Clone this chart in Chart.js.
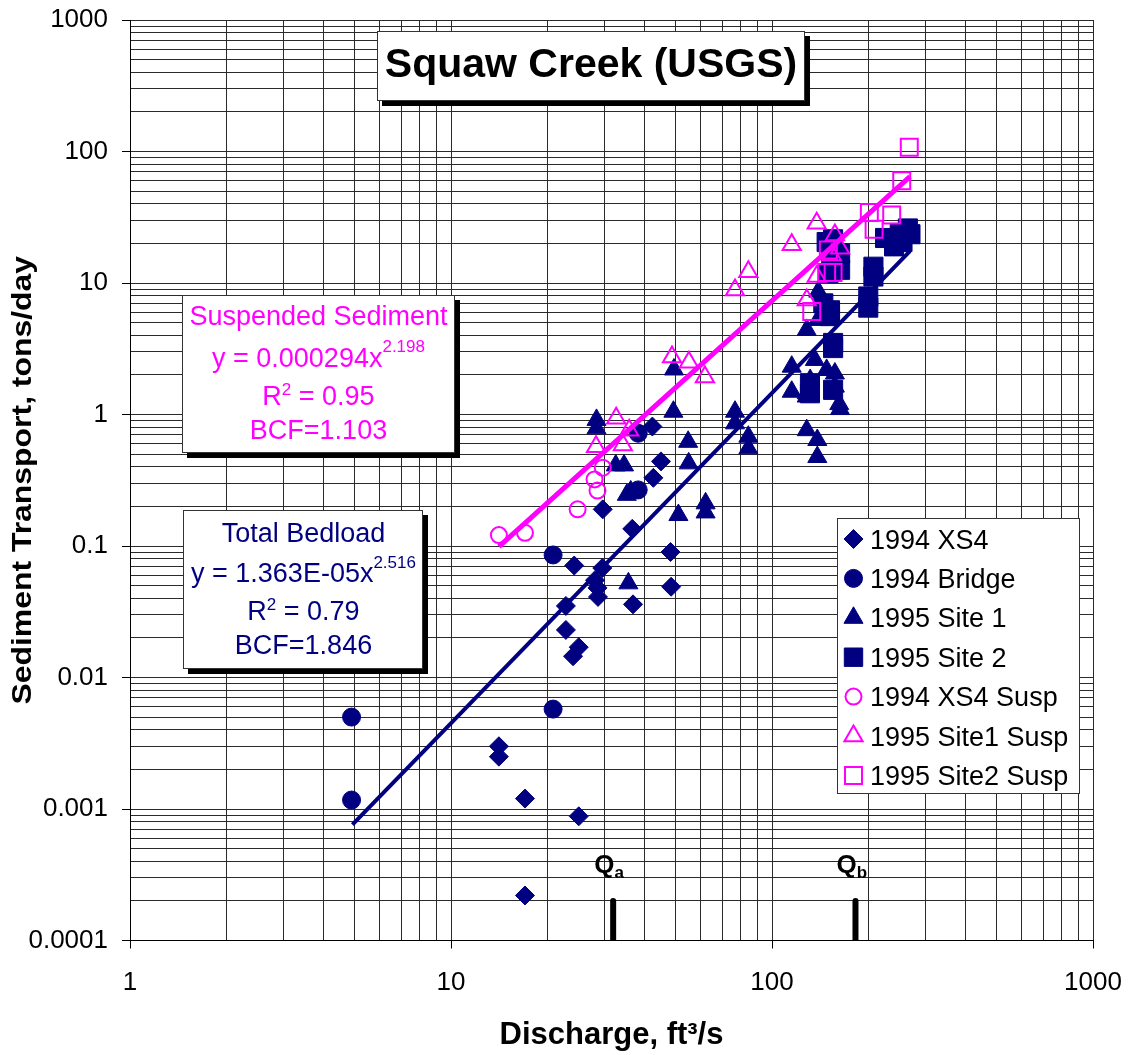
<!DOCTYPE html>
<html><head><meta charset="utf-8">
<script src="https://cdn.jsdelivr.net/npm/chart.js@4/dist/chart.umd.min.js"></script>
<style>html,body{margin:0;padding:0;background:#fff}canvas{display:block}</style>
</head><body>
<canvas id="c" width="1129" height="1055"></canvas>
<script>
// ---- data ----
const xs4X = [29.7, 36.7, 42.4, 45.1, 42.7, 48.3, 48.5, 36.9, 29.6, 24.2, 28.1, 28.6, 28.7, 22.8, 22.8, 25.0, 24.0, 14.1, 14.1, 17.0, 25.0, 17.0];
const xs4Y = [0.19, 0.135, 0.81, 0.44, 0.33, 0.09, 0.049, 0.036, 0.068, 0.071, 0.055, 0.048, 0.041, 0.035, 0.023, 0.017, 0.0145, 0.0030, 0.0025, 0.0012, 0.00088, 0.00022];

const bridgeX = [4.9, 4.9, 20.8, 20.8, 38.3, 38.3];
const bridgeY = [0.005, 0.00117, 0.0855, 0.00575, 0.72, 0.267];

const site1X = [28.4, 28.4, 32.6, 34.6, 35.3, 36.3, 49.5, 49.3, 54.8, 55.0, 51.1, 62.1, 62.1, 35.7, 76.7, 76.7, 84.4, 84.4, 139.4, 128.3, 139.0, 115.2, 115.2, 128.3, 136.0, 131.5, 157.0, 157.0, 162.9, 162.0, 128.3, 138.4, 138.4, 128.3, 148.0];
const site1Y = [0.91, 0.785, 0.41, 0.41, 0.245, 0.26, 2.2, 1.05, 0.62, 0.425, 0.172, 0.211, 0.18, 0.052, 1.05, 0.857, 0.678, 0.553, 8.6, 4.4, 5.24, 2.31, 1.49, 1.45, 2.6, 1.83, 2.05, 1.63, 1.1, 1.2, 0.76, 0.64, 0.475, 1.37, 2.18];

const site2X = [225, 240, 250, 265, 255, 270, 207, 207, 199.5, 199.5, 155, 148, 163, 163, 150, 144.5, 151.6, 151.6, 155, 155, 131.3, 155, 131.3, 153];
const site2Y = [22, 19, 24, 26, 20.5, 23.5, 13.3, 11.2, 7.9, 6.5, 21.5, 20.5, 16.8, 12.6, 11.9, 7.0, 6.2, 5.6, 3.5, 3.2, 1.73, 1.54, 1.45, 16.3];

const xs4SuspX = [14.1, 17.0, 24.8, 29.7, 28.0, 28.6];
const xs4SuspY = [0.121, 0.126, 0.19, 0.394, 0.321, 0.264];

const site1SuspX = [32.7, 35.9, 34.3, 28.3, 61.8, 48.8, 55.1, 76.7, 84.4, 115.2, 137.8, 157, 163, 153.5, 137.8, 128.3];
const site1SuspY = [0.935, 0.76, 0.586, 0.569, 1.93, 2.74, 2.5, 8.85, 12.2, 19.5, 28.5, 23.2, 18.4, 16.3, 11.2, 7.43];

const site2SuspX = [267.7, 253.6, 201, 236, 208, 149.8, 148, 155, 133];
const site2SuspY = [107.7, 60, 34.3, 32.9, 25.6, 17.8, 12.0, 12.0, 6.06];

// trend line end points as drawn
const bedFitX = [4.93, 269];
const bedFitY = [0.00076, 17.5];
const suspFitX = [14.1, 269];
const suspFitY = [0.099, 64.4];

// Qa / Qb marks
const qX = [32, 182];
const qY = [0.0001, 0.0002];
const qNames = ['a', 'b'];

const xTickLabels = ['1', '10', '100', '1000'];
const yTickLabels = ['0.0001', '0.001', '0.01', '0.1', '1', '10', '100', '1000'];
const legendLabels = ['1994 XS4', '1994 Bridge', '1995 Site 1', '1995 Site 2', '1994 XS4 Susp', '1995 Site1 Susp', '1995 Site2 Susp'];

const NAVY = '#000080', MAG = '#FF00FF';
const FONT = "'Liberation Sans', Arial, Helvetica, sans-serif";
Chart.defaults.font.family = FONT;
Chart.defaults.color = '#000';

const pts = (xa, ya) => xa.map((x, i) => ({x: x, y: ya[i]}));

function gridTicks(min, max) {
  const out = [];
  const e0 = Math.round(Math.log10(min)), e1 = Math.round(Math.log10(max));
  for (let e = e0; e <= e1; e++) {
    for (let m = 1; m <= 9; m++) {
      const v = Number((m * Math.pow(10, e)).toPrecision(12));
      if (v >= min && v <= max) out.push({value: v, major: m === 1});
    }
  }
  return out;
}
function isDecade(v) {
  const e = Math.round(Math.log10(v));
  return Math.abs(v - Math.pow(10, e)) / v < 1e-9;
}
function labelFrom(arr, min) {
  const e0 = Math.round(Math.log10(min));
  return function (value) {
    if (!isDecade(value)) return '';
    return arr[Math.round(Math.log10(value)) - e0] || '';
  };
}

const ptStyles = [
  {pointStyle: 'rectRot', r: 9.5, fill: NAVY, stroke: NAVY, bw: 1},
  {pointStyle: 'circle', r: 9, fill: NAVY, stroke: NAVY, bw: 1},
  {pointStyle: 'triangle', r: 11, fill: NAVY, stroke: NAVY, bw: 1},
  {pointStyle: 'rect', r: 13.5, fill: NAVY, stroke: NAVY, bw: 1},
  {pointStyle: 'circle', r: 8, fill: 'rgba(0,0,0,0)', stroke: MAG, bw: 2},
  {pointStyle: 'triangle', r: 10.5, fill: 'rgba(0,0,0,0)', stroke: MAG, bw: 2},
  {pointStyle: 'rect', r: 12, fill: 'rgba(0,0,0,0)', stroke: MAG, bw: 2}
];
const legendSizes = [9.5, 9, 11, 13, 8, 10.5, 12];
const seriesData = [pts(xs4X, xs4Y), pts(bridgeX, bridgeY), pts(site1X, site1Y), pts(site2X, site2Y), pts(xs4SuspX, xs4SuspY), pts(site1SuspX, site1SuspY), pts(site2SuspX, site2SuspY)];

const markerSets = seriesData.map((d, i) => ({
  label: legendLabels[i], data: d, showLine: false,
  pointStyle: ptStyles[i].pointStyle, pointRadius: ptStyles[i].r,
  pointBackgroundColor: ptStyles[i].fill, pointBorderColor: ptStyles[i].stroke,
  pointBorderWidth: ptStyles[i].bw
}));

const lineSet = (label, data, color, w, cap) => ({
  label: label, data: data, showLine: true, borderColor: color, borderWidth: w,
  pointRadius: 0, borderCapStyle: cap || 'butt', fill: false
});

const datasets = [
  lineSet('Qa', [{x: qX[0], y: qY[0]}, {x: qX[0], y: qY[1]}], '#000', 6, 'round'),
  lineSet('Qb', [{x: qX[1], y: qY[0]}, {x: qX[1], y: qY[1]}], '#000', 6, 'round'),
  lineSet('Suspended fit', pts(suspFitX, suspFitY), MAG, 5),
  lineSet('Bedload fit', pts(bedFitX, bedFitY), NAVY, 4),
  // pink on top of navy: later in list = drawn earlier
  markerSets[6], markerSets[5], markerSets[4],
  markerSets[3], markerSets[2], markerSets[1], markerSets[0]
];

function richWidth(ctx, parts, base) {
  let w = 0;
  parts.forEach(p => { ctx.font = (p.bold ? 'bold ' : '') + (p.size || base) + 'px ' + FONT; w += ctx.measureText(p.t).width; });
  return w;
}
function drawRich(ctx, parts, x, baseline, base, color, align) {
  const total = richWidth(ctx, parts, base);
  let cx = align === 'left' ? x : x - total / 2;
  ctx.fillStyle = color;
  ctx.textBaseline = 'alphabetic';
  ctx.textAlign = 'left';
  parts.forEach(p => {
    ctx.font = (p.bold ? 'bold ' : '') + (p.size || base) + 'px ' + FONT;
    ctx.fillText(p.t, cx, baseline + (p.dy || 0));
    cx += ctx.measureText(p.t).width;
  });
}
function shadowBox(ctx, x0, y0, x1, y1, shadow) {
  if (shadow) { ctx.fillStyle = '#000'; ctx.fillRect(x0 + shadow, y0 + shadow, x1 - x0, y1 - y0); }
  ctx.fillStyle = '#fff';
  ctx.fillRect(x0, y0, x1 - x0, y1 - y0);
  ctx.strokeStyle = '#333'; ctx.lineWidth = 1;
  ctx.strokeRect(x0 + 0.5, y0 + 0.5, x1 - x0 - 1, y1 - y0 - 1);
}

const overlay = {
  id: 'overlay',
  afterDraw(chart) {
    const ctx = chart.ctx;
    ctx.save();
    // title box
    shadowBox(ctx, 377, 31, 805, 101, 5);
    drawRich(ctx, [{t: 'Squaw Creek (USGS)', bold: true}], 591, 77, 41, '#000');

    // suspended sediment box
    shadowBox(ctx, 182, 295, 455, 453, 5);
    drawRich(ctx, [{t: 'Suspended Sediment'}], 318.5, 325, 27, MAG);
    drawRich(ctx, [{t: 'y = 0.000294x'}, {t: '2.198', size: 17, dy: -15}], 318.5, 367, 27, MAG);
    drawRich(ctx, [{t: 'R'}, {t: '2', size: 17, dy: -10}, {t: ' = 0.95'}], 318.5, 405, 27, MAG);
    drawRich(ctx, [{t: 'BCF=1.103'}], 318.5, 438.5, 27, MAG);

    // bedload box
    shadowBox(ctx, 183, 510, 423, 669, 5);
    drawRich(ctx, [{t: 'Total Bedload'}], 303.5, 541.5, 27, NAVY);
    drawRich(ctx, [{t: 'y = 1.363E-05x'}, {t: '2.516', size: 17, dy: -14}], 303.5, 582, 27, NAVY);
    drawRich(ctx, [{t: 'R'}, {t: '2', size: 17, dy: -10}, {t: ' = 0.79'}], 303.5, 620, 27, NAVY);
    drawRich(ctx, [{t: 'BCF=1.846'}], 303.5, 653.5, 27, NAVY);

    // legend
    shadowBox(ctx, 837, 518, 1080, 794, 0);
    const base0 = 548.5, step = 39.4;
    legendLabels.forEach((lab, i) => {
      const bl = base0 + i * step;
      const s = ptStyles[i];
      ctx.fillStyle = s.fill === 'rgba(0,0,0,0)' ? '#fff' : s.fill;
      ctx.strokeStyle = s.stroke;
      ctx.lineWidth = s.bw;
      Chart.helpers.drawPoint(ctx, {pointStyle: s.pointStyle, radius: legendSizes[i], rotation: 0, borderWidth: s.bw}, 853.5, bl - 9.5);
      drawRich(ctx, [{t: lab}], 870, bl, 27, '#000', 'left');
    });

    // Q labels
    const xs = chart.scales.x, ys = chart.scales.y;
    qX.forEach((qx, i) => {
      const px = xs.getPixelForValue(qx);
      const py = ys.getPixelForValue(qY[1]);
      drawRich(ctx, [{t: 'Q', bold: true}, {t: qNames[i], bold: true, size: 17, dy: 5}], px - 19, py - 28, 26, '#000', 'left');
    });

    // y axis title (stretched like the original)
    ctx.save();
    ctx.translate(31, (chart.chartArea.top + chart.chartArea.bottom) / 2);
    ctx.rotate(-Math.PI / 2);
    ctx.scale(1.14, 1);
    ctx.font = 'bold 28px ' + FONT;
    ctx.fillStyle = '#000';
    ctx.textAlign = 'center';
    ctx.textBaseline = 'alphabetic';
    ctx.fillText('Sediment Transport, tons/day', 0, 0);
    ctx.restore();
    ctx.restore();
  }
};

const gridOpts = {
  color: '#2a2a2a', lineWidth: 1, drawTicks: true, tickLength: 8,
  tickColor: (c) => (c.tick && isDecade(c.tick.value)) ? '#000' : 'rgba(0,0,0,0)'
};
function zeroPad(s) { s.paddingTop = 0; s.paddingBottom = 0; s.paddingLeft = 0; s.paddingRight = 0; }

new Chart(document.getElementById('c').getContext('2d'), {
  type: 'scatter',
  data: {datasets: datasets},
  options: {
    responsive: false, animation: false, devicePixelRatio: 1,
    layout: {padding: {left: 0, top: 20, right: 36, bottom: 0}},
    plugins: {legend: {display: false}, tooltip: {enabled: false}, title: {display: false}},
    events: [],
    scales: {
      x: {
        type: 'logarithmic', min: 1, max: 1000, position: 'bottom',
        afterBuildTicks: (s) => { s.ticks = gridTicks(1, 1000); },
        afterFit: (s) => { s.height = 114.5; zeroPad(s); },
        ticks: {autoSkip: false, maxRotation: 0, minRotation: 0, padding: 19, font: {size: 26}, color: '#000', callback: labelFrom(xTickLabels, 1)},
        grid: gridOpts,
        border: {display: true, color: '#000', width: 1},
        title: {display: true, text: 'Discharge, ft³/s', font: {size: 31, weight: 'bold'}, color: '#000', padding: {top: 0, bottom: 1}}
      },
      y: {
        type: 'logarithmic', min: 0.0001, max: 1000, position: 'left',
        afterBuildTicks: (s) => { s.ticks = gridTicks(0.0001, 1000); },
        afterFit: (s) => { s.width = 130; zeroPad(s); },
        ticks: {autoSkip: false, padding: 14, font: {size: 26}, color: '#000', callback: labelFrom(yTickLabels, 0.0001)},
        grid: gridOpts,
        border: {display: true, color: '#000', width: 1},
        title: {display: false}
      }
    }
  },
  plugins: [overlay]
});
</script>
</body></html>
